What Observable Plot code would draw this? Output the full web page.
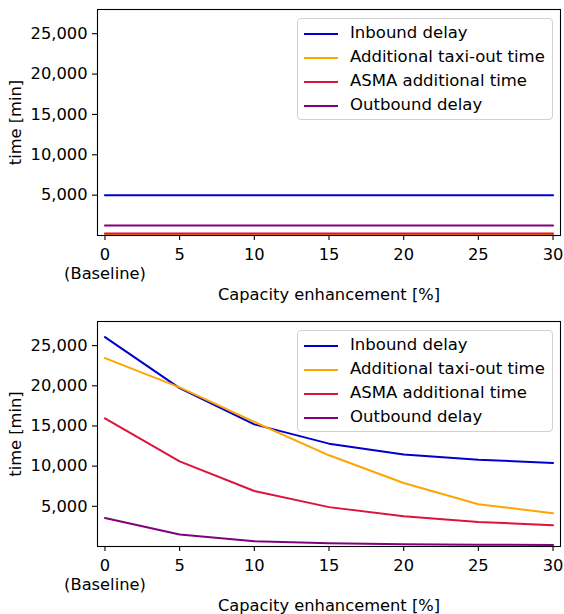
<!DOCTYPE html>
<html>
<head>
<meta charset="utf-8">
<script src="https://cdn.jsdelivr.net/npm/d3@7"></script>
<script src="https://cdn.jsdelivr.net/npm/@observablehq/plot@0.6"></script>
<style>
  html, body { margin: 0; padding: 0; background: white; }
  #wrap { position: relative; width: 564px; height: 614px; font-family: "DejaVu Sans", sans-serif; }
  .panel { position: relative; }
  .legend {
    position: absolute; left: 297px; width: 256px; height: 102px;
    border: 1px solid #d0d0d0; border-radius: 4px; background: rgba(255,255,255,0.8);
    box-sizing: border-box; font-size: 16.5px; color: black;
  }
  .legend .row { position: absolute; left: 0; height: 24px; width: 100%; }
  .legend .sw { position: absolute; left: 6px; width: 34px; height: 2px; top: 11px; }
  .legend .lab { position: absolute; left: 52px; top: 1px; white-space: nowrap; line-height: 20px; }
</style>
</head>
<body>
<div id="wrap"></div>
<script>
// ---- data ----
const xs = [0, 5, 10, 15, 20, 25, 30];
const seriesNames = ["Inbound delay", "Additional taxi-out time", "ASMA additional time", "Outbound delay"];
const seriesColors = ["mediumblue", "orange", "crimson", "purple"];
const yTicks = [5000, 10000, 15000, 20000, 25000];
const xTickLabels = ["0\n(Baseline)", "5", "10", "15", "20", "25", "30"];

// top panel (baseline scenario held constant)
const topInbound  = [4980, 4980, 4980, 4980, 4980, 4980, 4980];
const topTaxi     = [150, 150, 150, 150, 150, 150, 150];
const topAsma     = [250, 250, 250, 250, 250, 250, 250];
const topOutbound = [1250, 1250, 1250, 1250, 1250, 1250, 1250];

// bottom panel
const botInbound  = [26050, 19700, 15200, 12800, 11450, 10800, 10400];
const botTaxi     = [23450, 19800, 15500, 11350, 7900, 5250, 4150];
const botAsma     = [15950, 10600, 6900, 4900, 3750, 3050, 2650];
const botOutbound = [3550, 1500, 650, 400, 280, 230, 200];

function tidy(arrs) {
  const out = [];
  arrs.forEach((arr, i) => arr.forEach((v, j) => out.push({x: xs[j], y: v, series: seriesNames[i]})));
  return out;
}

function makePanel(data, height, marginTop, marginBottom) {
  return Plot.plot({
    width: 564,
    height,
    marginLeft: 97,
    marginRight: 4,
    marginTop,
    marginBottom,
    style: {fontFamily: "DejaVu Sans, sans-serif", fontSize: "16.3px", color: "black", background: "white", overflow: "visible"},
    x: {domain: [-0.5, 30.5]},
    y: {domain: [0, 28000]},
    color: {domain: seriesNames, range: seriesColors},
    marks: [
      Plot.line(data, {x: "x", y: "y", z: "series", stroke: "series", strokeWidth: 2}),
      Plot.axisY({ticks: yTicks, tickFormat: d3.format(","), tickSize: 5, tickPadding: 5, strokeWidth: 1.1,
        label: "time [min]", labelAnchor: "center", labelOffset: 88, labelArrow: "none"}),
      Plot.axisX({ticks: xs, tickFormat: d => xTickLabels[xs.indexOf(d)], tickSize: 5, tickPadding: 6.5, strokeWidth: 1.1,
        lineHeight: 1.15, label: "Capacity enhancement [%]", labelAnchor: "center", labelOffset: 64, labelArrow: "none"}),
      Plot.frame({stroke: "black", strokeWidth: 1.1})
    ]
  });
}

function makeLegend(top) {
  const lg = document.createElement("div");
  lg.className = "legend";
  lg.style.top = top + "px";
  seriesNames.forEach((name, i) => {
    const row = document.createElement("div");
    row.className = "row";
    row.style.top = (2.5 + i * 24.2) + "px";
    const sw = document.createElement("div");
    sw.className = "sw";
    sw.style.background = seriesColors[i];
    const lab = document.createElement("div");
    lab.className = "lab";
    lab.textContent = name;
    row.appendChild(sw); row.appendChild(lab);
    lg.appendChild(row);
  });
  return lg;
}

const wrap = document.getElementById("wrap");
const p1 = document.createElement("div"); p1.className = "panel";
p1.appendChild(makePanel(tidy([topInbound, topTaxi, topAsma, topOutbound]), 310, 9, 75));
p1.appendChild(makeLegend(18));
const p2 = document.createElement("div"); p2.className = "panel";
p2.appendChild(makePanel(tidy([botInbound, botTaxi, botAsma, botOutbound]), 304, 11, 68));
p2.appendChild(makeLegend(20));
wrap.appendChild(p1);
wrap.appendChild(p2);
</script>
</body>
</html>
